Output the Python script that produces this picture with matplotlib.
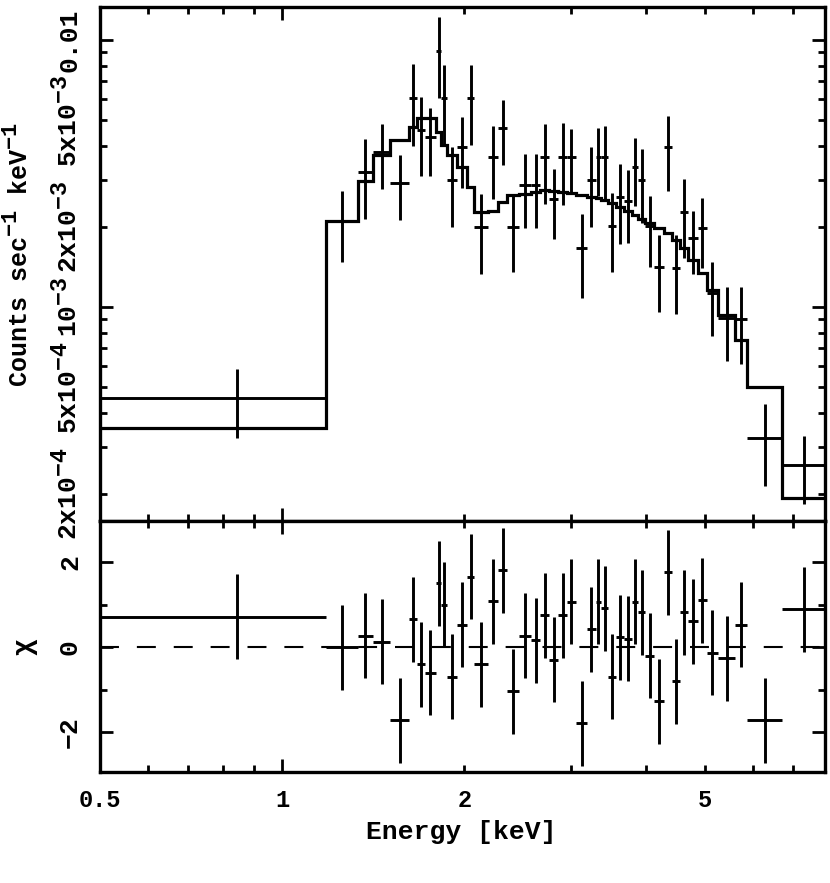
import numpy as np
import matplotlib
matplotlib.use('Agg')
import matplotlib.pyplot as plt
from matplotlib.ticker import FixedLocator, FuncFormatter
import matplotlib._mathtext as mt

# superscripts nearly full size, as in the pgplot original
mt.SHRINK_FACTOR = 0.88

plt.rcParams['font.family'] = ['Liberation Mono', 'DejaVu Sans Mono']
plt.rcParams['font.weight'] = 'bold'
plt.rcParams['mathtext.default'] = 'regular'

# channel bin edges (keV)
edges = [0.5, 1.182, 1.334, 1.413, 1.508, 1.621, 1.671, 1.722, 1.796, 1.831,
         1.873, 1.946, 2.021, 2.076, 2.189, 2.274, 2.354, 2.464, 2.579, 2.669,
         2.762, 2.858, 2.957, 3.060, 3.191, 3.302, 3.366, 3.457, 3.564, 3.674,
         3.787, 3.875, 3.980, 4.118, 4.278, 4.410, 4.547, 4.687, 4.869, 5.038,
         5.253, 5.604, 5.866, 6.703, 7.896]

# counts s^-1 keV^-1
rate = [4.56e-4, 2.10e-3, 3.20e-3, 3.81e-3, 2.91e-3, 6.06e-3, 4.60e-3, 4.33e-3,
        9.10e-3, 6.06e-3, 2.99e-3, 3.97e-3, 6.06e-3, 1.99e-3, 3.65e-3, 4.68e-3,
        1.99e-3, 2.86e-3, 2.86e-3, 3.65e-3, 2.54e-3, 3.65e-3, 3.65e-3, 1.66e-3,
        2.99e-3, 3.65e-3, 3.65e-3, 2.01e-3, 2.58e-3, 2.49e-3, 3.34e-3, 2.99e-3,
        2.01e-3, 1.41e-3, 3.97e-3, 1.40e-3, 2.27e-3, 1.81e-3, 1.98e-3, 1.13e-3,
        9.09e-4, 9.02e-4, 3.23e-4, 2.56e-4]

rate_err = [1.32e-4, 6.2e-4, 1.06e-3, 1.04e-3, 7.9e-4, 2.06e-3, 1.50e-3, 1.24e-3,
            3.06e-3, 1.99e-3, 9.9e-4, 1.17e-3, 2.01e-3, 6.6e-4, 1.11e-3, 1.28e-3,
            6.4e-4, 8.9e-4, 8.8e-4, 1.21e-3, 7.4e-4, 1.24e-3, 9.9e-4, 5.75e-4,
            9.9e-4, 1.05e-3, 1.11e-3, 6.6e-4, 8.6e-4, 7.6e-4, 9.6e-4, 9.2e-4,
            6.0e-4, 4.5e-4, 1.24e-3, 4.6e-4, 7.4e-4, 4.85e-4, 5.85e-4, 3.5e-4,
            2.84e-4, 2.9e-4, 1.09e-4, 7.3e-5]

model = [3.52e-4, 2.10e-3, 2.96e-3, 3.71e-3, 4.22e-3, 4.72e-3, 5.10e-3, 5.10e-3,
         4.52e-3, 4.04e-3, 3.71e-3, 3.34e-3, 2.81e-3, 2.27e-3, 2.29e-3, 2.47e-3,
         2.63e-3, 2.65e-3, 2.70e-3, 2.74e-3, 2.72e-3, 2.70e-3, 2.67e-3, 2.63e-3,
         2.58e-3, 2.56e-3, 2.52e-3, 2.45e-3, 2.37e-3, 2.29e-3, 2.21e-3, 2.14e-3,
         2.06e-3, 1.98e-3, 1.89e-3, 1.78e-3, 1.66e-3, 1.50e-3, 1.34e-3, 1.16e-3,
         9.33e-4, 7.52e-4, 5.02e-4, 1.93e-4]

chi = [0.71, 0.0, 0.26, 0.12, -1.72, 0.65, -0.40, -0.60, 1.50, 1.00, -0.70,
       0.52, 1.65, -0.40, 1.08, 1.81, -1.04, 0.26, 0.16, 0.75, -0.30, 0.75,
       1.06, -1.79, 0.42, 1.06, 0.91, -0.70, 0.23, 0.19, 1.06, 0.82, -0.21,
       -1.27, 1.76, -0.80, 0.82, 0.61, 1.10, -0.14, -0.26, 0.52, -1.72, 0.89]

x_major = [1]
x_minor = [0.5, 0.6, 0.7, 0.8, 0.9, 2, 3, 4, 5, 6, 7]
x_labels = {0.5: '0.5', 1: '1', 2: '2', 5: '5'}

y_labels = {2e-4: '2x10$^{-4}$', 5e-4: '5x10$^{-4}$', 1e-3: '10$^{-3}$',
            2e-3: '2x10$^{-3}$', 5e-3: '5x10$^{-3}$', 1e-2: '0.01'}
chi_labels = {-2: '\u22122', 0: '0', 2: '2'}

lo = np.array(edges[:-1])
hi = np.array(edges[1:])
mid = (lo + hi) / 2

W, H = 830, 883
fig = plt.figure(figsize=(W / 100, H / 100), dpi=100)
ax1 = fig.add_axes([100 / W, 1 - 521 / H, 725 / W, 514 / H])
ax2 = fig.add_axes([100 / W, 1 - 772 / H, 725 / W, 251 / H])

lw = 2.1
ax1.stairs(model, edges, baseline=None, color='k', lw=2.3)
ax1.errorbar(mid, rate, xerr=[mid - lo, hi - mid], yerr=rate_err,
             fmt='none', ecolor='k', elinewidth=lw, capsize=0)
ax1.set_yscale('log')
ax1.set_ylim(1.579e-4, 1.329e-2)

ax2.axhline(0, color='k', lw=1.5, ls=(0, (9.1, 8.6)))
ax2.errorbar(mid, chi, xerr=[mid - lo, hi - mid], yerr=1.0,
             fmt='none', ecolor='k', elinewidth=lw, capsize=0)
ax2.set_ylim(-2.94, 2.965)


def fmt_from(d):
    def f(v, pos):
        for k, s in d.items():
            if abs(v - k) < 1e-12 or (k != 0 and abs(v / k - 1) < 1e-6):
                return s
        return ''
    return FuncFormatter(f)


for ax in (ax1, ax2):
    ax.set_xscale('log')
    ax.set_xlim(0.5, 7.896)
    ax.xaxis.set_major_locator(FixedLocator(x_major))
    ax.xaxis.set_minor_locator(FixedLocator(x_minor))
    ax.tick_params(which='both', direction='in', top=True, right=True,
                   width=2.0, labelsize=17)
    ax.tick_params(which='major', length=9.5)
    ax.tick_params(which='minor', length=5)
    for s in ax.spines.values():
        s.set_linewidth(2.4)

ax1.xaxis.set_major_formatter(FuncFormatter(lambda v, p: ''))
ax1.xaxis.set_minor_formatter(FuncFormatter(lambda v, p: ''))
ax2.xaxis.set_major_formatter(fmt_from(x_labels))
ax2.xaxis.set_minor_formatter(fmt_from(x_labels))
ax2.tick_params(axis='x', which='both', pad=12)

ax1.yaxis.set_major_locator(FixedLocator([1e-3, 1e-2]))
ax1.yaxis.set_minor_locator(FixedLocator([k * 1e-4 for k in range(2, 10)] +
                                         [k * 1e-3 for k in range(2, 10)]))
ax1.yaxis.set_major_formatter(fmt_from(y_labels))
ax1.yaxis.set_minor_formatter(fmt_from(y_labels))

ax2.yaxis.set_major_locator(FixedLocator([-2, 0, 2]))
ax2.yaxis.set_minor_locator(FixedLocator([-1, 1]))
ax2.yaxis.set_major_formatter(fmt_from(chi_labels))

for ax in (ax1, ax2):
    ax.tick_params(axis='y', which='both', labelrotation=90, pad=13,
                   labelsize=19)
    for t in ax.yaxis.get_major_ticks() + ax.yaxis.get_minor_ticks():
        t.label1.set_va('center')

fig.text(19 / W, 1 - 254 / H, 'Counts sec$^{-1}$ keV$^{-1}$', rotation=90,
         ha='center', va='center', fontsize=18)
fig.text(24 / W, 1 - 647 / H, '\u03c7', rotation=90, ha='center', va='center',
         fontsize=20)
fig.text(461 / W, 1 - 832 / H, 'Energy [keV]', ha='center', va='center',
         fontsize=19)

fig.savefig('out.png', dpi=100)
